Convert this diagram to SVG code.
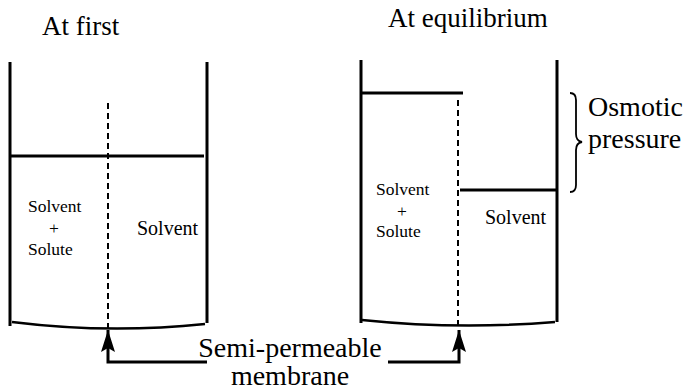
<svg xmlns="http://www.w3.org/2000/svg" width="687" height="392" viewBox="0 0 687 392">
<defs>
<style>
.wall{stroke:#000;stroke-width:3;fill:none}
.lvl{stroke:#000;stroke-width:3;fill:none}
.bot{stroke:#000;stroke-width:2.5;fill:none}
.mem{stroke:#000;stroke-width:2;stroke-dasharray:6,4;fill:none}
.conn{stroke:#000;stroke-width:3;fill:none}
text{font-family:"Times New Roman","Liberation Serif","DejaVu Serif",serif;fill:#000}
.title{font-size:27px}
.big{font-size:28px}
.sm{font-size:17.5px}
.md{font-size:20px}
</style>
<marker id="ah" markerWidth="22" markerHeight="14" refX="22" refY="7" orient="auto" markerUnits="userSpaceOnUse" viewBox="0 0 22 14">
<path d="M22,7 L0,0 L4,7 L0,14 Z" fill="#000"/>
</marker>
</defs>
<g id="beaker-first">
<text class="title" x="42" y="35">At first</text>
<line class="wall" x1="10" y1="62" x2="10" y2="326"/>
<line class="wall" x1="207" y1="62" x2="207" y2="323"/>
<line class="lvl" x1="10" y1="156" x2="204" y2="156"/>
<path class="bot" d="M12,322 Q108,334 205,324"/>
<line class="mem" x1="108" y1="103" x2="108" y2="328"/>
<text class="sm" x="28" y="212">Solvent</text>
<text class="sm" x="54" y="234" text-anchor="middle">+</text>
<text class="sm" x="28" y="255">Solute</text>
<text class="md" x="137" y="235">Solvent</text>
</g>
<g id="beaker-equilibrium">
<text class="title" x="388" y="27">At equilibrium</text>
<line class="wall" x1="361" y1="60" x2="361" y2="323"/>
<line class="wall" x1="557" y1="60" x2="557" y2="322"/>
<line class="lvl" x1="361" y1="93" x2="463" y2="93"/>
<line class="lvl" x1="460" y1="190" x2="557" y2="190"/>
<path class="bot" d="M362,320 Q458,330 555,322"/>
<line class="mem" x1="458" y1="100" x2="458" y2="328"/>
<text class="sm" x="376" y="195">Solvent</text>
<text class="sm" x="402" y="217" text-anchor="middle">+</text>
<text class="sm" x="376" y="237">Solute</text>
<text class="md" x="485" y="224">Solvent</text>
</g>
<g id="osmotic-pressure">
<path d="M570,93 Q576,93 576,100 L576,134 Q576,141 582,142 Q576,143 576,150 L576,185 Q576,192 570,192" stroke="#000" stroke-width="1.8" fill="none"/>
<text class="big" x="588" y="116">Osmotic</text>
<text class="big" x="588" y="148">pressure</text>
</g>
<g id="membrane-label">
<text class="big" x="290" y="357" text-anchor="middle">Semi-permeable</text>
<text class="big" x="290" y="385" text-anchor="middle">membrane</text>
</g>
<g id="connectors">
<path class="conn" d="M207,362 L108,362 L108,330" marker-end="url(#ah)"/>
<path class="conn" d="M388,362 L459,362 L459,330" marker-end="url(#ah)"/>
</g>
</svg>
